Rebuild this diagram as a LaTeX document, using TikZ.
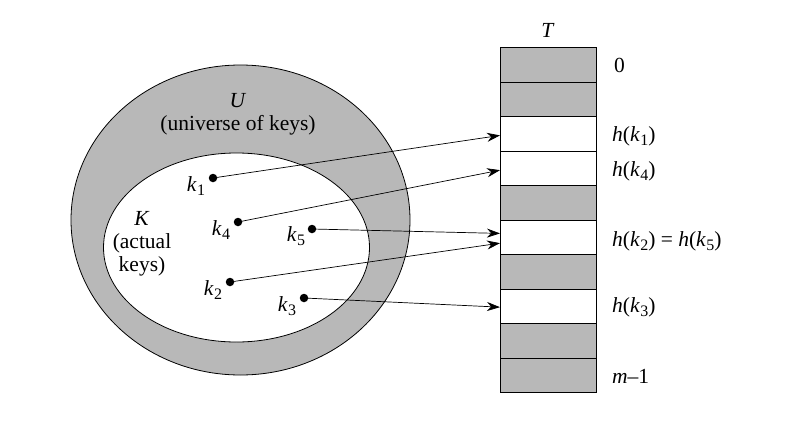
\documentclass[tikz,border=0pt]{standalone}
\usepackage{fontspec}
\setmainfont{Liberation Serif}
\usetikzlibrary{shapes.geometric,arrows.meta}
\definecolor{shade}{RGB}{184,184,184}
\newcommand{\sbs}[1]{\raisebox{-0.45ex}{\fontsize{16}{16}\selectfont #1}}
\newcommand{\kk}[1]{\textit{k}\kern0.3pt\sbs{#1}}
\newcommand{\hk}[1]{\textit{h}(\kk{#1})}
\begin{document}
\begin{tikzpicture}[x=1pt,y=-1pt,
  font=\fontsize{21.5}{23}\selectfont,
  cellbase/.style={draw, line width=0.8pt, minimum width=96pt, minimum height=34.5pt, inner sep=0pt, anchor=north west},
  cellg/.style={cellbase, fill=shade},
  cellw/.style={cellbase, fill=white},
  keydot/.style={circle, fill=black, inner sep=0pt, minimum size=8.5pt},
  klabel/.style={inner sep=0pt},
  arr/.style={-{Stealth[length=13pt,width=9pt]}, line width=0.7pt},
  rowlabel/.style={anchor=west, inner sep=0pt}]
\useasboundingbox (0,0) rectangle (800,439);
% sets
\node[ellipse, draw, line width=0.8pt, fill=shade, minimum width=339pt, minimum height=310pt, inner sep=0pt] (U) at (240.5,220) {};
\node[ellipse, draw, line width=0.8pt, fill=white, minimum width=266pt, minimum height=189pt, inner sep=0pt] (K) at (236.5,247.5) {};
\node[align=center, inner sep=0pt] (Ulab) at (238,114) {\textit{U}\\(universe of keys)};
\node[align=center, inner sep=0pt] (Klab) at (142,244) {\textit{K}\\(actual\\keys)};
% table
\node[cellg] (c0) at (500,47) {};
\node[cellg] (c1) at (500,81.5) {};
\node[cellw] (c2) at (500,116) {};
\node[cellw] (c3) at (500,150.5) {};
\node[cellg] (c4) at (500,185) {};
\node[cellw] (c5) at (500,219.5) {};
\node[cellg] (c6) at (500,254) {};
\node[cellw] (c7) at (500,288.5) {};
\node[cellg] (c8) at (500,323) {};
\node[cellg] (c9) at (500,357.5) {};
\node (T) at (548,30) {\textit{T}};
\node[rowlabel] (l0) at (614,65) {0};
\node[rowlabel] (l2) at (612,136) {\hk{1}};
\node[rowlabel] (l3) at (612,171) {\hk{4}};
\node[rowlabel] (l5) at (612,241) {\hk{2} = \hk{5}};
\node[rowlabel] (l7) at (612,307) {\hk{3}};
\node[rowlabel] (l9) at (612,376) {\textit{m}–1};
% keys
\node[keydot] (k1) at (213,178) {};
\node[keydot] (k4) at (238,222) {};
\node[keydot] (k5) at (312,229) {};
\node[keydot] (k2) at (230,282) {};
\node[keydot] (k3) at (304,298) {};
\node[klabel] (t1) at (196,186) {\kk{1}};
\node[klabel] (t4) at (221,230) {\kk{4}};
\node[klabel] (t5) at (296,236) {\kk{5}};
\node[klabel] (t2) at (213,290) {\kk{2}};
\node[klabel] (t3) at (287,306) {\kk{3}};
% arrows
\draw[arr] (k1.center) -- ([yshift=-1.75pt]c2.west);
\draw[arr] (k4.center) -- ([yshift=-2pt]c3.west);
\draw[arr] (k5.center) -- ([yshift=3.75pt]c5.west);
\draw[arr] (k2.center) -- ([yshift=-6pt]c5.west);
\draw[arr] (k3.center) -- ([yshift=-1pt]c7.west);
\end{tikzpicture}
\end{document}
